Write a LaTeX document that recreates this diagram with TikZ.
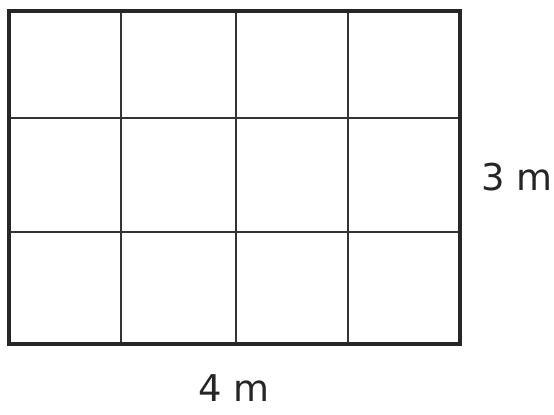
\documentclass[tikz,border=0pt]{standalone}
\usepackage{fontspec}
\setmainfont{DejaVu Sans}
\usetikzlibrary{positioning}
\tikzset{
  outerline/.style={line width=2.6pt,draw=black!85},
  gridline/.style={line width=0.9pt,draw=black!80},
  sizelabel/.style={font=\fontsize{21}{26}\selectfont\mdseries,text=black!85,inner sep=0pt}
}
\begin{document}
\begin{tikzpicture}[x=0.02cm,y=-0.02cm]
				\useasboundingbox (0,0) rectangle (554,414);
				% grid lines
				\foreach \x in {121,236,348}{
					\draw[gridline] (\x,11) -- (\x,344);
				}
				\foreach \y in {118,232}{
					\draw[gridline] (9,\y) -- (460,\y);
				}
				\draw[outerline] (9,11) rectangle (460,344);
				\node[sizelabel] (height) at (517,177) {3 m};
				\node[sizelabel] (width) at (234,388) {4 m};
\end{tikzpicture}
\end{document}
